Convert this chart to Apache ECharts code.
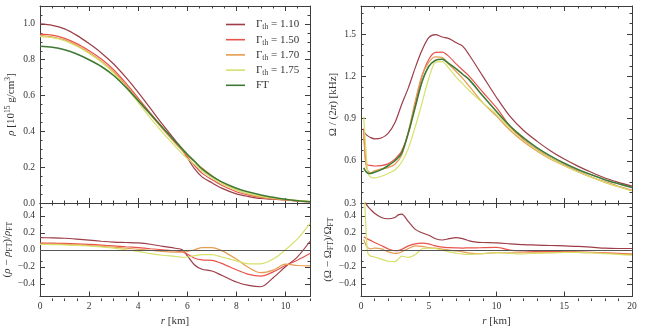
<!DOCTYPE html>
<html>
<head>
<meta charset="utf-8">
<script src="https://cdn.jsdelivr.net/npm/echarts@6/dist/echarts.min.js"></script>
<style>
  html, body { margin: 0; padding: 0; background: #fff; }
  #chart { width: 672px; height: 328px; }
</style>
</head>
<body>
<div id="chart"></div>
<script>
// ---- data ----
const rRho = [0, 0.5, 1, 1.5, 2, 2.5, 3, 3.5, 4, 4.5, 5, 5.5, 5.8, 6, 6.3, 6.6, 7, 7.4, 8, 8.5, 9, 9.5, 10, 10.5, 11];
const rho110 = [1.000, 0.992, 0.972, 0.936, 0.890, 0.838, 0.776, 0.701, 0.618, 0.528, 0.437, 0.351, 0.301, 0.253, 0.190, 0.146, 0.113, 0.083, 0.051, 0.036, 0.025, 0.021, 0.017, 0.012, 0.008];
const rho150 = [0.943, 0.937, 0.919, 0.890, 0.850, 0.804, 0.744, 0.669, 0.586, 0.502, 0.420, 0.341, 0.293, 0.258, 0.209, 0.167, 0.131, 0.099, 0.063, 0.044, 0.031, 0.024, 0.017, 0.011, 0.007];
const rho170 = [0.935, 0.928, 0.911, 0.880, 0.840, 0.792, 0.733, 0.658, 0.575, 0.493, 0.412, 0.335, 0.293, 0.267, 0.232, 0.195, 0.154, 0.117, 0.074, 0.049, 0.033, 0.024, 0.017, 0.011, 0.006];
const rho175 = [0.929, 0.923, 0.906, 0.875, 0.835, 0.787, 0.726, 0.646, 0.561, 0.474, 0.393, 0.318, 0.275, 0.249, 0.216, 0.179, 0.141, 0.108, 0.072, 0.052, 0.038, 0.028, 0.021, 0.015, 0.009];
const rhoFT  = [0.875, 0.870, 0.856, 0.832, 0.800, 0.762, 0.712, 0.646, 0.572, 0.496, 0.420, 0.345, 0.301, 0.272, 0.232, 0.190, 0.150, 0.118, 0.083, 0.062, 0.045, 0.032, 0.021, 0.013, 0.007];

const dRho110 = [0.143, 0.14, 0.135, 0.125, 0.113, 0.10, 0.09, 0.085, 0.08, 0.065, 0.04, 0.018, 0.0, -0.07, -0.18, -0.23, -0.25, -0.30, -0.38, -0.42, -0.435, -0.33, -0.20, -0.08, 0.10];
const dRho150 = [0.078, 0.077, 0.074, 0.07, 0.063, 0.055, 0.045, 0.035, 0.025, 0.012, 0.0, -0.012, -0.025, -0.05, -0.10, -0.12, -0.125, -0.16, -0.235, -0.29, -0.31, -0.26, -0.185, -0.12, -0.045];
const dRho170 = [0.068, 0.067, 0.064, 0.058, 0.05, 0.04, 0.03, 0.018, 0.006, -0.006, -0.018, -0.028, -0.028, -0.02, 0.0, 0.025, 0.025, -0.01, -0.11, -0.21, -0.27, -0.24, -0.17, -0.185, -0.19];
const dRho175 = [0.062, 0.061, 0.058, 0.052, 0.044, 0.033, 0.02, 0.0, -0.02, -0.045, -0.065, -0.078, -0.088, -0.085, -0.07, -0.058, -0.058, -0.085, -0.13, -0.165, -0.165, -0.11, 0.0, 0.13, 0.31];

const rOm = [0.2, 0.35, 0.5, 0.7, 1, 1.5, 2, 2.5, 3, 3.5, 4, 4.5, 5, 5.5, 6, 6.5, 7, 7.5, 8, 9, 10, 11, 12, 13, 14, 15, 16, 17, 18, 19, 20];
const om110 = [0.807, 0.79, 0.777, 0.765, 0.756, 0.762, 0.795, 0.87, 1.0, 1.12, 1.26, 1.385, 1.475, 1.497, 1.48, 1.468, 1.44, 1.415, 1.35, 1.2, 1.05, 0.915, 0.815, 0.738, 0.67, 0.612, 0.562, 0.518, 0.478, 0.447, 0.42];
const om150 = [0.83, 0.59, 0.57, 0.567, 0.563, 0.566, 0.578, 0.612, 0.67, 0.8, 1.0, 1.2, 1.32, 1.37, 1.372, 1.34, 1.29, 1.245, 1.2, 1.087, 0.977, 0.845, 0.75, 0.678, 0.62, 0.57, 0.525, 0.485, 0.45, 0.419, 0.39];
const om170 = [0.81, 0.58, 0.53, 0.515, 0.528, 0.542, 0.551, 0.575, 0.639, 0.812, 1.024, 1.206, 1.30, 1.339, 1.333, 1.284, 1.236, 1.185, 1.128, 1.012, 0.917, 0.817, 0.735, 0.668, 0.611, 0.565, 0.522, 0.483, 0.447, 0.416, 0.387];
const om175 = [0.913, 0.7, 0.52, 0.485, 0.478, 0.49, 0.51, 0.535, 0.59, 0.69, 0.84, 1.01, 1.185, 1.30, 1.305, 1.255, 1.198, 1.148, 1.098, 1.01, 0.93, 0.83, 0.745, 0.675, 0.617, 0.567, 0.522, 0.484, 0.448, 0.416, 0.386];
const omFT  = [0.55, 0.525, 0.512, 0.51, 0.518, 0.537, 0.565, 0.60, 0.655, 0.80, 0.98, 1.16, 1.27, 1.315, 1.322, 1.29, 1.255, 1.215, 1.175, 1.06, 0.95, 0.847, 0.762, 0.692, 0.633, 0.582, 0.538, 0.50, 0.466, 0.437, 0.41];

const rDOm = [0.2, 0.35, 0.5, 0.7, 1, 1.5, 2, 2.5, 2.75, 3, 3.5, 4, 4.5, 5, 5.5, 6, 6.5, 7, 7.5, 8, 8.5, 9, 10, 11, 12, 13, 14, 15, 16, 17, 18, 19, 20];
const dOm110 = [0.62, 0.55, 0.51, 0.475, 0.43, 0.38, 0.365, 0.38, 0.41, 0.42, 0.33, 0.24, 0.2, 0.17, 0.13, 0.115, 0.13, 0.142, 0.13, 0.105, 0.09, 0.085, 0.08, 0.07, 0.06, 0.055, 0.05, 0.045, 0.04, 0.03, 0.018, 0.015, 0.015];
const dOm150 = [0.15, 0.14, 0.125, 0.11, 0.085, 0.05, 0.01, -0.012, -0.01, 0.005, 0.045, 0.07, 0.078, 0.07, 0.045, 0.03, 0.025, 0.022, 0.02, 0.022, 0.022, 0.025, 0.028, -0.005, -0.015, -0.02, -0.02, -0.02, -0.025, -0.03, -0.035, -0.042, -0.05];
const dOm170 = [0.12, 0.06, 0.025, 0.01, 0.02, 0.01, -0.025, -0.042, -0.04, -0.025, 0.015, 0.045, 0.04, 0.025, 0.018, 0.008, -0.005, -0.015, -0.025, -0.04, -0.045, -0.045, -0.035, -0.035, -0.035, -0.035, -0.035, -0.03, -0.03, -0.035, -0.04, -0.048, -0.055];
const dOm175 = [0.9, 0.3, -0.04, -0.075, -0.085, -0.11, -0.135, -0.14, -0.11, -0.075, -0.09, -0.06, 0.012, 0.02, 0.015, -0.005, -0.025, -0.04, -0.052, -0.055, -0.05, -0.045, -0.035, -0.042, -0.05, -0.04, -0.035, -0.03, -0.03, -0.035, -0.045, -0.055, -0.065];

// tick labels
const xTicksL = [0, 2, 4, 6, 8, 10];
const xTicksR = [0, 5, 10, 15, 20];
const yTicksRho = [0, 0.2, 0.4, 0.6, 0.8, 1.0];
const yTicksOm = [0.3, 0.6, 0.9, 1.2, 1.5];
const yTicksDiff = [-0.4, -0.2, 0, 0.2, 0.4];

const names = ['1.10', '1.50', '1.70', '1.75', 'FT'];
const colors = ['#9c3d47', '#e8544c', '#e69c52', '#d6e06a', '#3f7a34'];

// ---- style ----
const F = 'Liberation Serif';
const TXT = '#333';
const FRAME = '#3c3c3c';

// minor tick positions between a and b
function minors(a, b, s, majors) {
  const out = [];
  for (let v = a; v <= b + 1e-9; v += s) {
    const r = Math.round(v * 1000) / 1000;
    if (!majors.some(m => Math.abs(m - r) < 1e-6)) out.push(r);
  }
  return out;
}
const fmtY = v => Number(v).toFixed(1).replace('-', '\u2212');

const rich = {
  n: { fontFamily: F, fontSize: 11, color: TXT, lineHeight: 14, verticalAlign: 'middle' },
  i: { fontFamily: F, fontSize: 11, color: TXT, fontStyle: 'italic', lineHeight: 14, verticalAlign: 'middle' },
  sub: { fontFamily: F, fontSize: 7.5, color: TXT, lineHeight: 8, verticalAlign: 'bottom' },
  sup: { fontFamily: F, fontSize: 7.5, color: TXT, lineHeight: 8, verticalAlign: 'top' }
};

const panels = [
  { rect: { left: 40, top: 6, width: 270, height: 197 }, x: [0, 11], y: [0, 1.1],
    xMaj: xTicksL, xMin: minors(0, 11, 0.5, xTicksL), yMaj: yTicksRho, yMin: minors(0, 1.1, 0.05, yTicksRho),
    xLab: false, yName: '{i|ρ}{n| [10}{sup|15}{n| g/cm}{sup|3}{n|]}', yGap: 22 },
  { rect: { left: 40, top: 203, width: 270, height: 98 }, x: [0, 11], y: [-0.55, 0.55],
    xMaj: xTicksL, xMin: minors(0, 11, 0.5, xTicksL), yMaj: yTicksDiff, yMin: minors(-0.5, 0.5, 0.1, yTicksDiff),
    xLab: true, yName: '{n|(}{i|ρ}{n| − }{i|ρ}{sub|FT}{n|)/}{i|ρ}{sub|FT}', yGap: 25 },
  { rect: { left: 361, top: 6, width: 271, height: 197 }, x: [0, 20], y: [0.3, 1.7],
    xMaj: xTicksR, xMin: minors(0, 20, 1, xTicksR), yMaj: yTicksOm, yMin: minors(0.3, 1.7, 0.075, yTicksOm),
    xLab: false, yName: '{n|Ω / (2}{i|π}{n|) [kHz]}', yGap: 21 },
  { rect: { left: 361, top: 203, width: 271, height: 98 }, x: [0, 20], y: [-0.55, 0.55],
    xMaj: xTicksR, xMin: minors(0, 20, 1, xTicksR), yMaj: yTicksDiff, yMin: minors(-0.5, 0.5, 0.1, yTicksDiff),
    xLab: true, yName: '{n|(Ω − Ω}{sub|FT}{n|)/Ω}{sub|FT}', yGap: 21 }
];

const grid = [], xAxis = [], yAxis = [];
function addAxes(p, gi, minor) {
  const base = { type: 'value', gridIndex: gi, splitLine: { show: false } };
  const line = { show: !minor, onZero: false, lineStyle: { color: FRAME, width: 1 } };
  const tick = (vals) => ({ show: true, inside: true, length: minor ? 2.5 : 5, customValues: vals, lineStyle: { color: FRAME, width: 1 } });
  const lab = { fontFamily: F, fontSize: 9.5, color: TXT };
  ['bottom', 'top'].forEach((pos, k) => {
    const showLab = !minor && k === 0 && p.xLab;
    const ax = Object.assign({}, base, {
      position: pos, min: p.x[0], max: p.x[1],
      axisLine: line, axisTick: tick(minor ? p.xMin : p.xMaj),
      axisLabel: { show: showLab, customValues: p.xMaj, margin: 5, ...lab }
    });
    if (showLab) {
      ax.name = '{i|r}{n| [km]}';
      ax.nameLocation = 'middle';
      ax.nameGap = 18;
      ax.nameTextStyle = { rich: rich };
    }
    xAxis.push(ax);
  });
  ['left', 'right'].forEach((pos, k) => {
    const showLab = !minor && k === 0;
    const ax = Object.assign({}, base, {
      position: pos, min: p.y[0], max: p.y[1],
      axisLine: line, axisTick: tick(minor ? p.yMin : p.yMaj),
      axisLabel: { show: showLab, customValues: p.yMaj, margin: 5, formatter: fmtY, ...lab }
    });
    if (showLab) {
      ax.name = p.yName;
      ax.nameLocation = 'middle';
      ax.nameGap = p.yGap;
      ax.nameRotate = 90;
      ax.nameTextStyle = { rich: rich };
    }
    yAxis.push(ax);
  });
}
panels.forEach((p, gi) => { grid.push(Object.assign({}, p.rect)); addAxes(p, gi, false); });
panels.forEach((p, gi) => { grid.push(Object.assign({}, p.rect)); addAxes(p, gi + 4, true); });

const pairs = (xs, ys) => xs.map((x, i) => [x, ys[i]]);
const series = [];
function addLines(gi, xs, sets, zero) {
  sets.forEach((ys, k) => {
    const s = {
      type: 'line', name: names[k], xAxisIndex: 2 * gi, yAxisIndex: 2 * gi,
      data: pairs(xs, ys), symbol: 'none', smooth: 0.3,
      lineStyle: { color: colors[k], width: k === 4 ? 1.6 : 1.2 },
      itemStyle: { color: colors[k] }, z: 3
    };
    if (zero && k === 0) {
      s.markLine = {
        silent: true, symbol: 'none', label: { show: false },
        lineStyle: { color: '#555', width: 1, type: 'solid' },
        data: [{ yAxis: 0 }]
      };
    }
    series.push(s);
  });
}
addLines(0, rRho, [rho110, rho150, rho170, rho175, rhoFT], false);
addLines(1, rRho, [dRho110, dRho150, dRho170, dRho175], true);
addLines(2, rOm, [om110, om150, om170, om175, omFT], false);
addLines(3, rDOm, [dOm110, dOm150, dOm170, dOm175], true);

const chart = echarts.init(document.getElementById('chart'), null, { renderer: 'canvas' });
chart.setOption({
  animation: false,
  backgroundColor: '#fff',
  grid: grid,
  xAxis: xAxis,
  yAxis: yAxis,
  legend: {
    data: names,
    orient: 'vertical',
    left: 221, top: 14,
    icon: 'rect',
    itemWidth: 19, itemHeight: 1.6, itemGap: 2.7,
    formatter: n => n === 'FT' ? '{n|FT}' : '{n|Γ}{sub|th}{n| = ' + n + '}',
    textStyle: { rich: rich, padding: [0, 0, 0, 6] }
  },
  series: series
});
</script>
</body>
</html>
